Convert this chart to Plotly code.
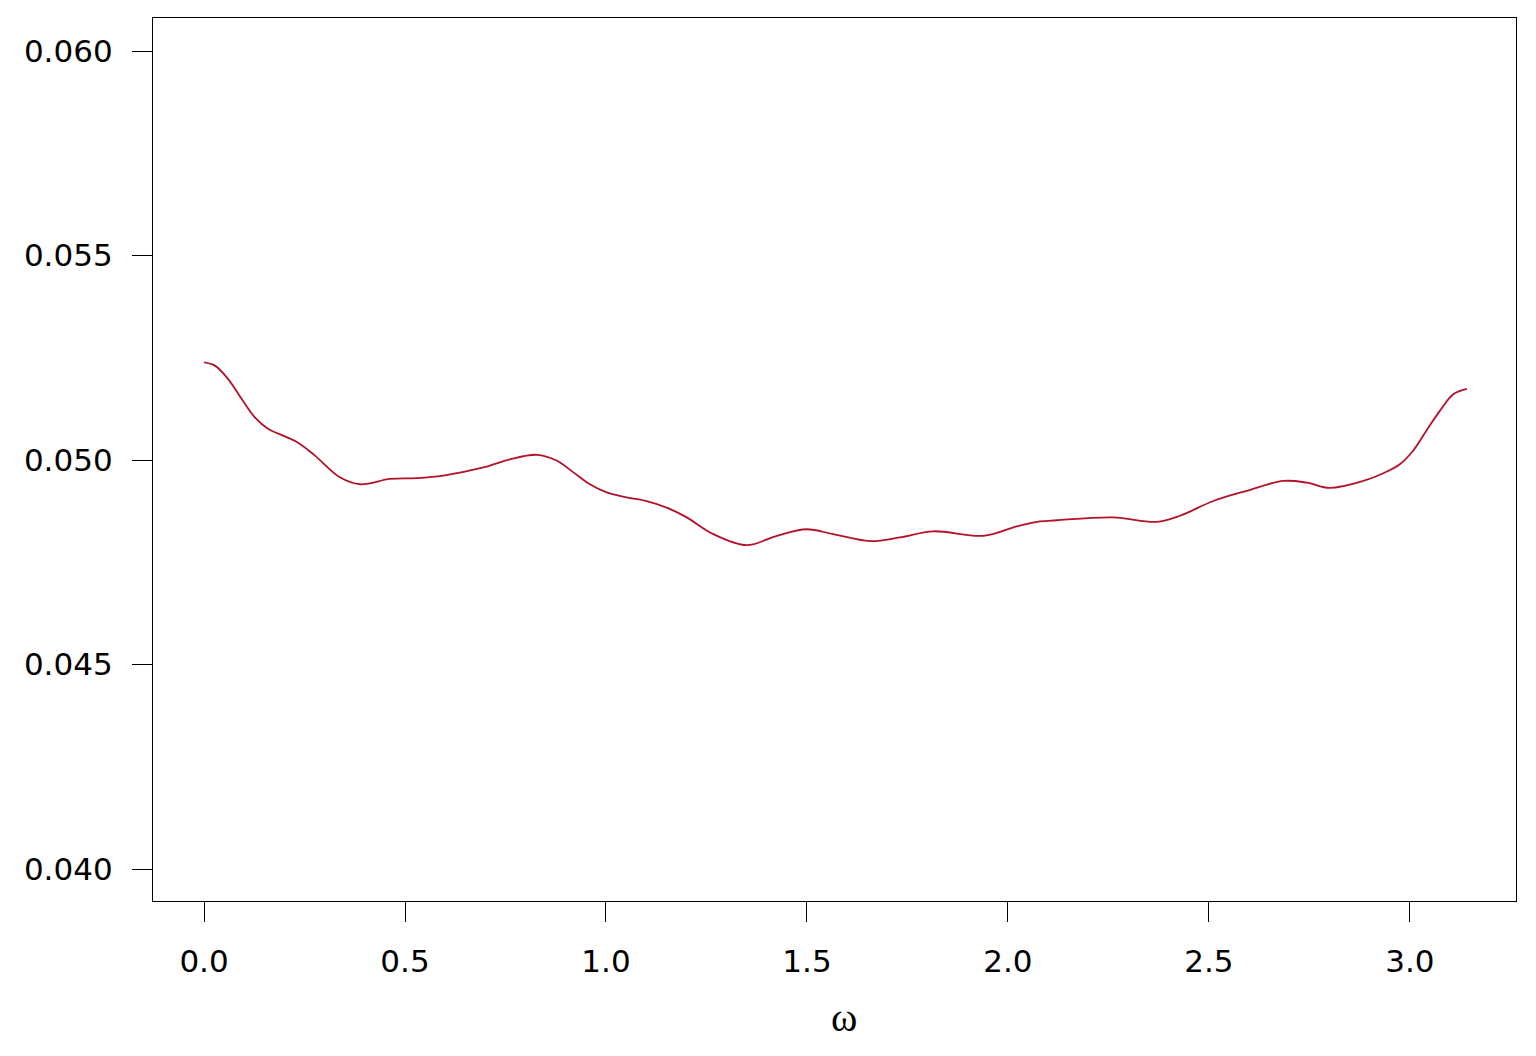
import plotly.graph_objects as go

omega = [0.000, 0.027, 0.060, 0.094, 0.127, 0.160, 0.201, 0.235, 0.276, 0.338, 0.388, 0.463,
         0.529, 0.595, 0.695, 0.761, 0.828, 0.877, 0.919, 0.960, 1.002, 1.051, 1.101, 1.151,
         1.201, 1.267, 1.350, 1.425, 1.499, 1.565, 1.657, 1.731, 1.814, 1.939, 2.022, 2.080,
         2.121, 2.262, 2.370, 2.428, 2.511, 2.594, 2.685, 2.743, 2.801, 2.884, 2.934, 2.975,
         3.008, 3.041, 3.075, 3.108, 3.1416]
spec = [0.05239, 0.05231, 0.05198, 0.05149, 0.05104, 0.05076, 0.05058, 0.05042, 0.05011,
        0.04958, 0.04941, 0.04954, 0.04956, 0.04962, 0.04982, 0.05002, 0.05013, 0.04999,
        0.04970, 0.04941, 0.04921, 0.04909, 0.04900, 0.04884, 0.04860, 0.04819, 0.04792,
        0.04815, 0.04831, 0.04819, 0.04802, 0.04811, 0.04826, 0.04815, 0.04838, 0.04850,
        0.04853, 0.04860, 0.04849, 0.04864, 0.04900, 0.04925, 0.04949, 0.04945, 0.04932,
        0.04949, 0.04968, 0.04990, 0.05023, 0.05072, 0.05121, 0.05161, 0.05174]

x_ticks = [0.0, 0.5, 1.0, 1.5, 2.0, 2.5, 3.0]
y_ticks = [0.040, 0.045, 0.050, 0.055, 0.060]

fig = go.Figure()
fig.add_trace(go.Scatter(x=omega, y=spec, mode="lines",
                         line=dict(color="#B4112A", width=1.8, shape="spline", smoothing=1.0),
                         showlegend=False, hoverinfo="skip"))

axis_common = dict(showline=True, mirror=True, linecolor="black", linewidth=1.3,
                   ticks="outside", ticklen=20, tickwidth=1.3, tickcolor="black",
                   showgrid=False, zeroline=False,
                   tickfont=dict(family="DejaVu Sans", size=31, color="black"))

fig.update_xaxes(range=[-0.127, 3.264], tickvals=x_ticks,
                 ticktext=[f"{v:.1f}" for v in x_ticks], ticklabelstandoff=13, **axis_common)
fig.update_yaxes(range=[0.03922, 0.06081], tickvals=y_ticks,
                 ticktext=[f"{v:.3f}" for v in y_ticks], ticklabelstandoff=13, **axis_common)

fig.add_annotation(text="ω", xref="paper", yref="paper", x=0.507, y=-0.132,
                   showarrow=False, yanchor="middle", xanchor="center",
                   font=dict(family="Liberation Serif", size=40, color="black"))

fig.update_layout(width=1528, height=1048, plot_bgcolor="white", paper_bgcolor="white",
                  margin=dict(l=145, r=20, t=10, b=155, autoexpand=False))

fig.write_html("out.html")
